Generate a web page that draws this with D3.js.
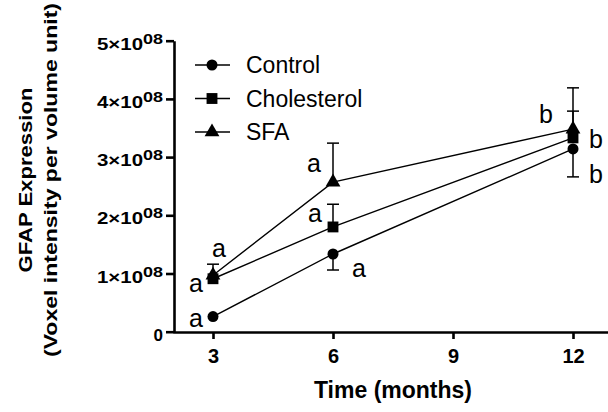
<!DOCTYPE html>
<meta charset="utf-8" />
<head>
  <script src="https://d3js.org/d3.v7.min.js"></script>
  <style>
    body { margin: 0; background: #fff; }
    svg text { font-family: "Liberation Sans", Arial, sans-serif; }
  </style>
</head>
<body>
  <div id="chart"></div>
</body>
<script>
  // data (values in units of 1e8)
  const months = [3, 6, 12];
  const seriesNames = ["Control", "Cholesterol", "SFA"];
  const control = [0.26, 1.335, 3.14];
  const cholesterol = [0.91, 1.8, 3.33];
  const sfa = [0.97, 2.57, 3.48];
  // error bar ends (null = not drawn)
  const controlErr = [null, 1.06, 2.66];
  const cholesterolErr = [null, 2.19, 3.79];
  const sfaErr = [1.16, 3.24, 4.19];
  const yTicks = [0, 1, 2, 3, 4, 5];
  const xTicks = [3, 6, 9, 12];
  // significance letters: series index, month index, letter
  const letterSeries = [0, 1, 2, 2, 1, 0, 2, 1, 0];
  const letterMonth = [0, 0, 0, 1, 1, 1, 2, 2, 2];
  const letters = ["a", "a", "a", "a", "a", "a", "b", "b", "b"];

  const W = 608, H = 412;
  const svg = d3.select("#chart").append("svg")
    .attr("width", W).attr("height", H);

  const x = d3.scaleLinear().domain([2, 13]).range([173, 613]);
  const y = d3.scaleLinear().domain([0, 5]).range([331.7, 40.7]);

  const values = [control, cholesterol, sfa];
  const errs = [controlErr, cholesterolErr, sfaErr];
  const symbols = [d3.symbolCircle, d3.symbolSquare, d3.symbolTriangle];
  const symSize = [95, 118, 95];

  // y axis
  const yAxis = svg.append("g")
    .attr("transform", "translate(174,0)")
    .call(d3.axisLeft(y).tickValues(yTicks).tickSize(8).tickSizeOuter(0).tickFormat(""));
  yAxis.selectAll(".tick text").each(function (d) {
    const t = d3.select(this)
      .attr("x", -11).attr("dy", null).attr("y", 8.5)
      .attr("fill", "#000").style("font-weight", "bold").style("font-size", "17px");
    if (d === 0) {
      t.append("tspan").text("0");
    } else {
      t.append("tspan").attr("textLength", 46).attr("lengthAdjust", "spacingAndGlyphs")
        .text(d + "\u00d710");
      t.append("tspan").attr("dy", -6).style("font-size", "14px")
        .attr("textLength", 20).attr("lengthAdjust", "spacingAndGlyphs")
        .text("08");
    }
  });

  // x axis
  const xAxis = svg.append("g")
    .attr("transform", "translate(0,332)")
    .call(d3.axisBottom(x).tickValues(xTicks).tickSize(7).tickSizeOuter(0));
  xAxis.selectAll(".tick text")
    .attr("y", 31).attr("dy", null)
    .attr("fill", "#000")
    .style("font-weight", "bold").style("font-size", "20px");

  svg.selectAll(".domain").attr("stroke", "#000").attr("stroke-width", 2.6);
  svg.selectAll(".tick line").attr("stroke", "#000").attr("stroke-width", 2.6);

  // axis titles
  svg.append("text")
    .attr("transform", "translate(393,398)")
    .attr("text-anchor", "middle")
    .style("font-weight", "bold").style("font-size", "23px")
    .text("Time (months)");

  svg.append("text")
    .attr("transform", "translate(32,180) rotate(-90)")
    .attr("text-anchor", "middle")
    .attr("textLength", 185).attr("lengthAdjust", "spacingAndGlyphs")
    .style("font-weight", "bold").style("font-size", "19px")
    .text("GFAP Expression");
  svg.append("text")
    .attr("transform", "translate(57,180) rotate(-90)")
    .attr("text-anchor", "middle")
    .attr("textLength", 354).attr("lengthAdjust", "spacingAndGlyphs")
    .style("font-weight", "bold").style("font-size", "19px")
    .text("(Voxel intensity per volume unit)");

  // error bars
  values.forEach((vals, s) => {
    vals.forEach((v, i) => {
      const e = errs[s][i];
      if (e === null) return;
      const g = svg.append("g").attr("stroke", "#000").attr("stroke-width", 1.5);
      g.append("line")
        .attr("x1", x(months[i])).attr("x2", x(months[i]))
        .attr("y1", y(v)).attr("y2", y(e));
      g.append("line")
        .attr("x1", x(months[i]) - 6).attr("x2", x(months[i]) + 6)
        .attr("y1", y(e)).attr("y2", y(e));
    });
  });

  // lines and markers
  const line = d3.line().x((d, i) => x(months[i])).y((d) => y(d));
  values.forEach((vals, s) => {
    svg.append("path")
      .attr("d", line(vals))
      .attr("fill", "none").attr("stroke", "#000").attr("stroke-width", 1.4);
  });
  values.forEach((vals, s) => {
    svg.selectAll(null).data(vals).enter().append("path")
      .attr("d", d3.symbol().type(symbols[s]).size(symSize[s]))
      .attr("transform", (d, i) => "translate(" + x(months[i]) + "," + y(d) + ")")
      .attr("fill", "#000");
  });

  // significance letters, placed next to their point
  const letterDx = [-17, -17, 6, -19, -18, 26, -27, 23, 23];
  const letterDy = [10, 13, -18, -10, -5, 23, -6, 10, 34];
  letters.forEach((l, k) => {
    const s = letterSeries[k], i = letterMonth[k];
    svg.append("text")
      .attr("x", x(months[i]) + letterDx[k])
      .attr("y", y(values[s][i]) + letterDy[k])
      .attr("text-anchor", "middle")
      .style("font-size", "25px")
      .text(l);
  });

  // legend
  const legend = svg.append("g");
  seriesNames.forEach((name, s) => {
    const ly = 65 + s * 33.5;
    legend.append("line")
      .attr("x1", 195).attr("x2", 230).attr("y1", ly).attr("y2", ly)
      .attr("stroke", "#000").attr("stroke-width", 1.4);
    legend.append("path")
      .attr("d", d3.symbol().type(symbols[s]).size(symSize[s]))
      .attr("transform", "translate(212," + ly + ")");
    legend.append("text")
      .attr("x", 246).attr("y", ly + 8)
      .style("font-size", "23px")
      .text(name);
  });
</script>
